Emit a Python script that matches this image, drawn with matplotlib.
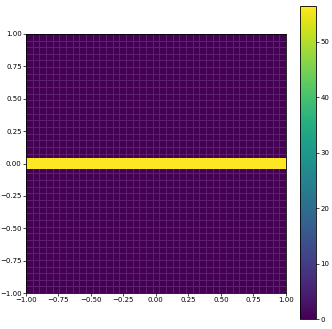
import numpy as np
import matplotlib
matplotlib.use('Agg')
import matplotlib.pyplot as plt

# data
n_cells = 39
band_lo, band_hi = -0.039, 0.039
band_value = 56.5
background_value = 0.0
cbar_ticks = [0, 10, 20, 30, 40, 50]

edges = np.linspace(-1, 1, n_cells + 1)
Z_bg = np.full((n_cells, n_cells), background_value)
Z_band = np.full((1, 1), band_value)

fig = plt.figure(figsize=(3.32, 3.29), dpi=100)
ax = fig.add_axes([0.078, 0.109, 0.783, 0.788])
cax = fig.add_axes([0.904, 0.030, 0.048, 0.952])

mesh = ax.pcolormesh(edges, edges, Z_bg, cmap='viridis', vmin=0, vmax=band_value,
                     edgecolors=(0.6, 0.4, 0.7, 0.3), linewidth=0.4)
ax.pcolormesh([-1, 1], [band_lo, band_hi], Z_band, cmap='viridis', vmin=0, vmax=band_value)
ax.set_xlim(-1, 1)
ax.set_ylim(-1, 1)
ticks = np.linspace(-1, 1, 9)
ax.set_xticks(ticks)
ax.set_yticks(ticks)
ax.tick_params(labelsize=5, length=2, width=0.5, pad=1)
for s in ax.spines.values():
    s.set_linewidth(0.6)

cb = fig.colorbar(mesh, cax=cax, ticks=cbar_ticks)
cb.ax.tick_params(labelsize=5, length=2, width=0.5, pad=1)
cb.outline.set_linewidth(0.6)

fig.savefig('out.png', dpi=100)
